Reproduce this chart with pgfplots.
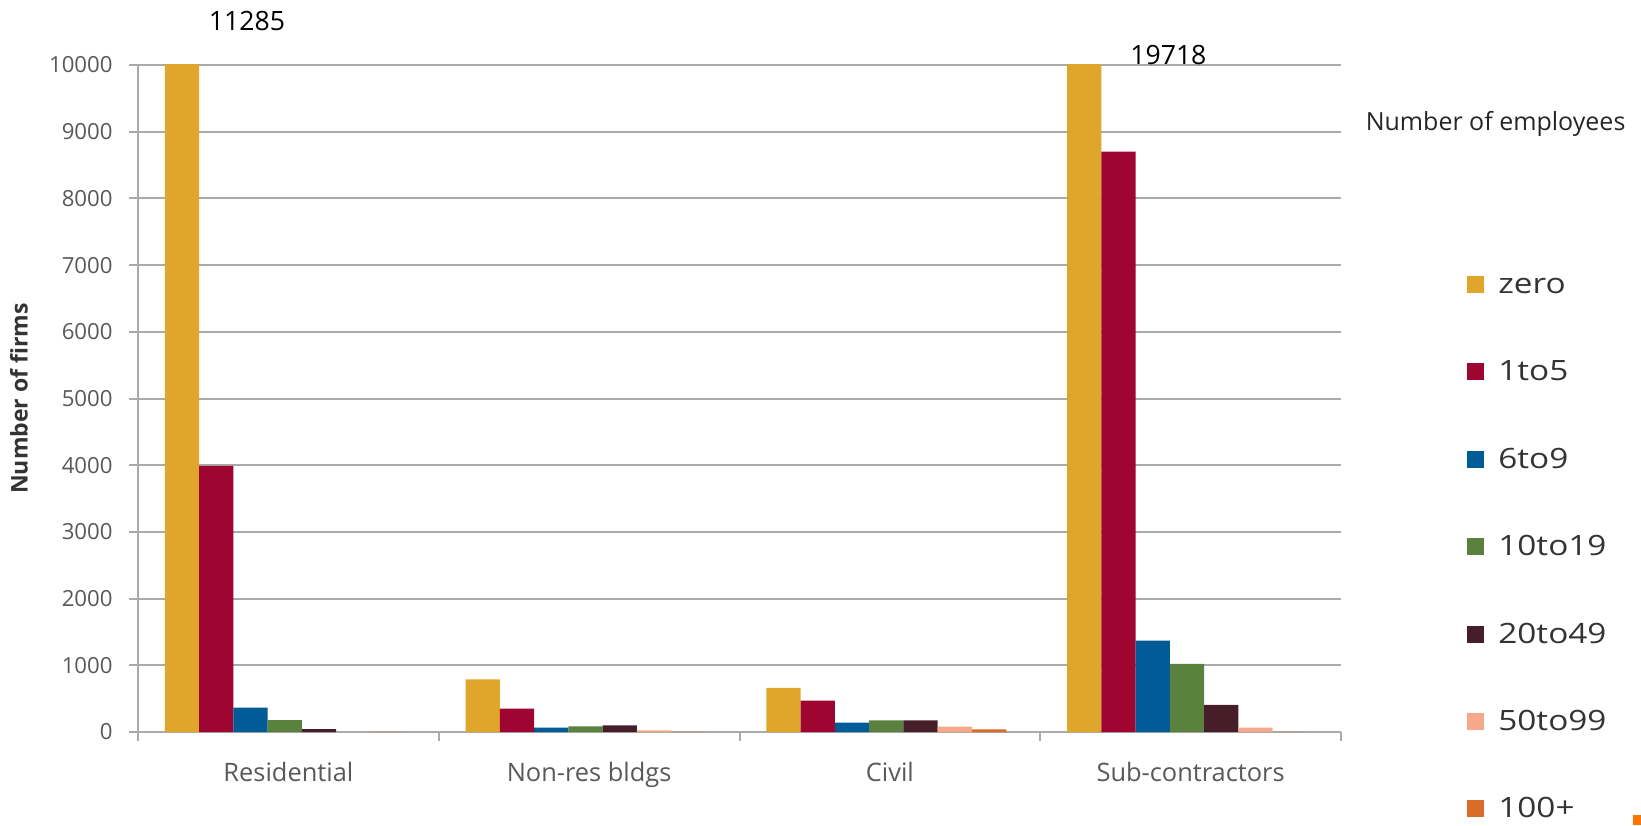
\documentclass[border=0pt]{standalone}
\usepackage{fontspec}
\setmainfont{Open Sans}
\newfontfamily\legfont{Open Sans}[FakeStretch=1.19]
\usepackage{pgfplots}
\pgfplotsset{compat=1.18}

\definecolor{cZero}{RGB}{224,165,43}
\definecolor{cOneFive}{RGB}{158,5,48}
\definecolor{cSixNine}{RGB}{0,91,150}
\definecolor{cTen}{RGB}{90,129,61}
\definecolor{cTwenty}{RGB}{69,30,41}
\definecolor{cFifty}{RGB}{246,169,138}
\definecolor{cHundred}{RGB}{218,108,42}
\definecolor{gridgray}{RGB}{170,170,170}
\definecolor{labelgray}{RGB}{89,89,89}

\begin{document}
\begin{tikzpicture}
\path[use as bounding box] (-69pt,-46.65pt) rectangle (751.5pt,366pt);
\begin{axis}[
  at={(0pt,0pt)}, anchor=south west,
  scale only axis, width=601.5pt, height=333.5pt,
  xmin=-0.5, xmax=3.5, ymin=0, ymax=10000,
  xtick={-0.5,0.5,1.5,2.5,3.5},
  x tick label as interval,
  xticklabels={Residential,Non-res bldgs,Civil,Sub-contractors},
  ytick={0,1000,...,10000},
  scaled y ticks=false,
  /pgf/number format/1000 sep={},
  /pgf/number format/assume math mode=true,
  axis x line*=bottom, axis y line*=left,
  axis line style={draw=gridgray, line width=1pt},
  ymajorgrids, grid style={draw=gridgray, line width=1pt},
  tick align=outside, major tick length=4.5pt,
  tick style={draw=gridgray, line width=1pt},
  tick label style={text=labelgray},
  x tick label style={font=\fontsize{12.7}{14}\selectfont, yshift=-6.85pt},
  y tick label style={font=\fontsize{11.1}{13}\selectfont, xshift=-4.7pt},
  ylabel={Number of firms},
  ylabel style={at={(axis description cs:-0.0989,0.5)}, anchor=center, rotate=0,
    font=\fontsize{11.5}{13}\selectfont\bfseries, text=black!80},
  ybar=0pt, bar width=0.114,
  clip mode=individual,
  legend image code/.code={\path[#1] (0pt,-4.25pt) rectangle (8.5pt,4.25pt);},
  legend style={draw=none, fill=none, inner sep=0pt,
    at={(axis description cs:1.1047,0.685)}, anchor=north west,
    font=\legfont\fontsize{14}{16}\selectfont, text=black!80,
    nodes={inner sep=0pt, text height=9pt, text depth=0pt},
    row sep=34.7pt, column sep=7pt},
  legend cell align=left,
]
\addplot[fill=cZero, draw=none, bar shift=-0.354] coordinates {(0,11285) (1,790) (2,660) (3,19718)};
\addplot[fill=cOneFive, draw=none, bar shift=-0.240] coordinates {(0,3990) (1,351) (2,470) (3,8700)};
\addplot[fill=cSixNine, draw=none, bar shift=-0.126] coordinates {(0,366) (1,66) (2,140) (3,1370)};
\addplot[fill=cTen, draw=none, bar shift=-0.012] coordinates {(0,180) (1,85) (2,175) (3,1020)};
\addplot[fill=cTwenty, draw=none, bar shift=0.102] coordinates {(0,45) (1,100) (2,175) (3,405)};
\addplot[fill=cFifty, draw=none, bar shift=0.216] coordinates {(0,0) (1,25) (2,80) (3,66)};
\addplot[fill=cHundred, draw=none, bar shift=0.330] coordinates {(0,0) (1,0) (2,40) (3,0)};
\legend{zero,1to5,6to9,10to19,20to49,50to99,100+}
% values of the two bars that run past the top of the scale
\node[font=\fontsize{13.3}{15}\selectfont, text=black] at (axis cs:-0.1376,10655) {11285};
\node[font=\fontsize{13.3}{15}\selectfont, text=black] at (axis cs:2.926,10155) {19718};
\node[anchor=west, font=\fontsize{12.5}{14}\selectfont, text=black!85]
  at (axis description cs:1.0147,0.912) {Number of employees};
\end{axis}
\fill[orange!90!red] (747.5pt,-41.65pt) rectangle (751.5pt,-46.65pt);
\end{tikzpicture}
\end{document}
